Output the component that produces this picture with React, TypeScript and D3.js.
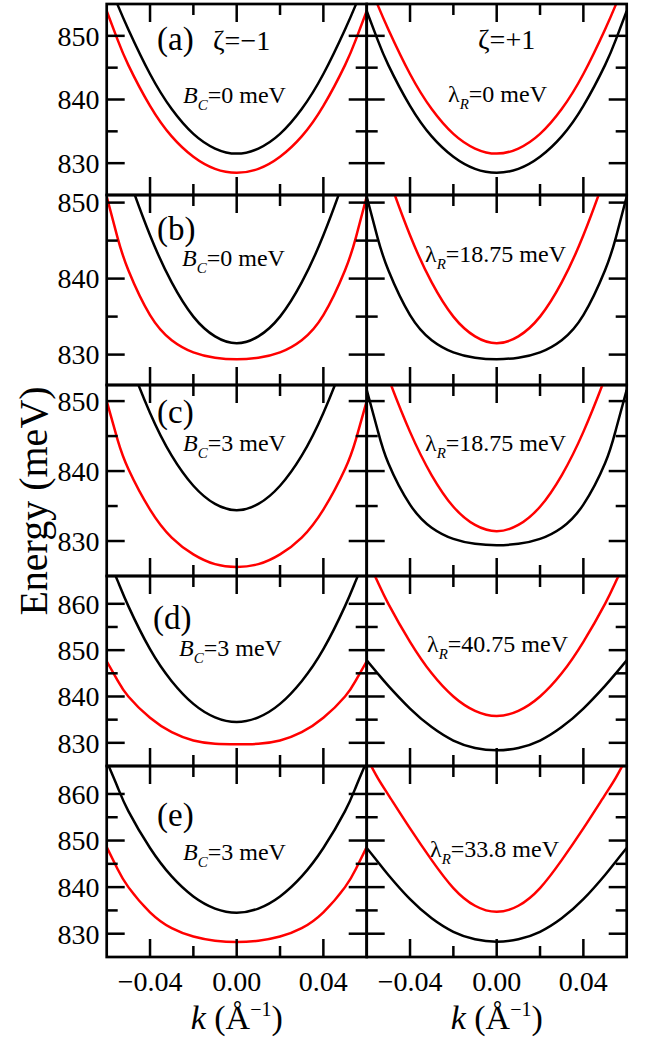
import React from 'react';
import * as d3 from 'd3';

// ---------- data ----------
const kValues = [-0.06, -0.055, -0.05, -0.04, -0.03, -0.02, -0.01, 0, 0.01, 0.02, 0.03, 0.04, 0.05, 0.055, 0.06];

// (a)
const aLeftBlack = [859.0, 854.9, 851.0, 844.0, 838.5, 834.6, 832.3, 831.5, 832.3, 834.6, 838.5, 844.0, 851.0, 854.9, 859.0];
const aLeftRed = [853.9, 849.4, 845.4, 839.0, 834.2, 831.0, 829.1, 828.5, 829.1, 831.0, 834.2, 839.0, 845.4, 849.4, 853.9];
const aRightBlack = [853.9, 849.4, 845.4, 839.0, 834.2, 831.0, 829.1, 828.5, 829.1, 831.0, 834.2, 839.0, 845.4, 849.4, 853.9];
const aRightRed = [859.0, 854.9, 851.0, 844.0, 838.5, 834.6, 832.3, 831.5, 832.3, 834.6, 838.5, 844.0, 851.0, 854.9, 859.0];
// (b)
const bLeftBlack = [862.5, 857.8, 853.4, 845.7, 839.5, 835.0, 832.4, 831.5, 832.4, 835.0, 839.5, 845.7, 853.4, 857.8, 862.5];
const bLeftRed = [850.8, 845.4, 841.1, 835.2, 831.9, 830.3, 829.6, 829.4, 829.6, 830.3, 831.9, 835.2, 841.1, 845.4, 850.8];
const bRightBlack = [850.8, 845.4, 841.1, 835.2, 831.9, 830.3, 829.6, 829.4, 829.6, 830.3, 831.9, 835.2, 841.1, 845.4, 850.8];
const bRightRed = [862.5, 857.8, 853.4, 845.7, 839.5, 835.0, 832.4, 831.5, 832.4, 835.0, 839.5, 845.7, 853.4, 857.8, 862.5];
// (c)
const cLeftBlack = [865.7, 860.7, 856.1, 848.3, 842.2, 837.9, 835.3, 834.4, 835.3, 837.9, 842.2, 848.3, 856.1, 860.7, 865.7];
const cLeftRed = [850.0, 844.5, 840.3, 834.5, 830.5, 828.1, 826.7, 826.3, 826.7, 828.1, 830.5, 834.5, 840.3, 844.5, 850.0];
const cRightBlack = [851.6, 845.9, 841.1, 835.2, 831.9, 830.3, 829.6, 829.4, 829.6, 830.3, 831.9, 835.2, 841.1, 845.9, 851.6];
const cRightRed = [862.4, 857.7, 853.3, 845.6, 839.4, 834.9, 832.3, 831.4, 832.3, 834.9, 839.4, 845.6, 853.3, 857.7, 862.4];
// (d)
const dLeftBlack = [870.5, 865.0, 859.5, 850.2, 843.3, 838.4, 835.5, 834.5, 835.5, 838.4, 843.3, 850.2, 859.5, 865.0, 870.5];
const dLeftRed = [847.6, 843.5, 840.0, 835.4, 832.3, 830.5, 829.8, 829.7, 829.8, 830.5, 832.3, 835.4, 840.0, 843.5, 847.6];
const dRightBlack = [847.8, 845.0, 842.3, 837.4, 833.4, 830.5, 828.9, 828.4, 828.9, 830.5, 833.4, 837.4, 842.3, 845.0, 847.8];
const dRightRed = [869.8, 864.8, 860.0, 851.8, 845.0, 840.0, 836.9, 835.8, 836.9, 840.0, 845.0, 851.8, 860.0, 864.8, 869.8];
// (e)
const eLeftBlack = [867.0, 861.5, 856.3, 848.4, 842.3, 838.0, 835.4, 834.5, 835.4, 838.0, 842.3, 848.4, 856.3, 861.5, 867.0];
const eLeftRed = [848.6, 843.9, 840.0, 834.6, 831.2, 829.4, 828.5, 828.2, 828.5, 829.4, 831.2, 834.6, 840.0, 843.9, 848.6];
const eRightBlack = [848.4, 845.5, 842.6, 837.4, 833.3, 830.4, 828.8, 828.3, 828.8, 830.4, 833.3, 837.4, 842.6, 845.5, 848.4];
const eRightRed = [867.8, 863.5, 859.8, 852.6, 845.8, 839.8, 836.0, 834.7, 836.0, 839.8, 845.8, 852.6, 859.8, 863.5, 867.8];

const panelLetters = ['(a)', '(b)', '(c)', '(d)', '(e)'];
const bcValues = ['0', '0', '3', '3', '3'];
const lambdaValues = ['0', '18.75', '18.75', '40.75', '33.8'];
const yDomains: [number, number][] = [[825, 855], [826, 851], [825, 852.3], [825, 866], [825, 866]];
const yMajorTicks = [[830, 840, 850], [830, 840, 850], [830, 840, 850], [830, 840, 850, 860], [830, 840, 850, 860]];
const yMinorTicks = [[835, 845], [835, 845], [835, 845], [835, 845, 855], [835, 845, 855]];
const xMajorTicks = [-0.04, 0, 0.04];
const xMinorTicks = [-0.02, 0.02];
const xTickLabels = ['\u22120.04', '0.00', '0.04'];

const curves = [
  [[aLeftBlack, aLeftRed], [aRightBlack, aRightRed]],
  [[bLeftBlack, bLeftRed], [bRightBlack, bRightRed]],
  [[cLeftBlack, cLeftRed], [cRightBlack, cRightRed]],
  [[dLeftBlack, dLeftRed], [dRightBlack, dRightRed]],
  [[eLeftBlack, eLeftRed], [eRightBlack, eRightRed]],
];

// ---------- layout ----------
const W = 652, H = 1040;
const colX: [number, number][] = [[106.7, 366.7], [366.7, 626.7]];
const rowY: [number, number][] = [[4, 195], [195, 385], [385, 576], [576, 766], [766, 957]];
const FONT = "'Liberation Serif', 'DejaVu Serif', serif";
const MAJ = 18, MIN = 11;
const tp = { fontFamily: FONT, fill: '#000' };

const letterPos = [[157, 50], [157, 240], [157, 423], [153, 629], [157, 826]];
const bcPos = [[183, 103], [182, 266], [183, 451], [179, 656], [183, 860]];
const lamPos = [[448, 102], [425, 262], [425, 451], [427, 652], [430, 857]];

export default function App() {
  const xScales = colX.map(([a, b]) => d3.scaleLinear().domain([-0.06, 0.06]).range([a, b]));
  const yScales = rowY.map(([t, b], i) => d3.scaleLinear().domain(yDomains[i]).range([b, t]));

  return (
    <svg width={W} height={H} style={{ position: 'absolute', left: 0, top: 0, background: '#fff' }}>
      <defs>
        {rowY.map((r, i) => colX.map((c, j) => (
          <clipPath id={`clip-${i}-${j}`} key={`${i}-${j}`}>
            <rect x={c[0]} y={r[0]} width={c[1] - c[0]} height={r[1] - r[0]} />
          </clipPath>
        )))}
      </defs>
      {rowY.map((r, i) => colX.map((c, j) => {
        const xs = xScales[j];
        const ys = yScales[i];
        const line = d3.line<number>().x((_, idx) => xs(kValues[idx])).y(v => ys(v)).curve(d3.curveNatural);
        const [blackVals, redVals] = curves[i][j];
        return (
          <g key={`p-${i}-${j}`}>
            <g clipPath={`url(#clip-${i}-${j})`}>
              <path d={line(blackVals) || ''} fill="none" stroke="#000" strokeWidth={2.5} />
              <path d={line(redVals) || ''} fill="none" stroke="#ff0000" strokeWidth={2.5} />
            </g>
            {xMajorTicks.map(t => (
              <g key={`xm${t}`}>
                <line x1={xs(t)} x2={xs(t)} y1={r[0]} y2={r[0] + MAJ} stroke="#000" strokeWidth={2.5} />
                <line x1={xs(t)} x2={xs(t)} y1={r[1]} y2={r[1] - MAJ} stroke="#000" strokeWidth={2.5} />
              </g>
            ))}
            {xMinorTicks.map(t => (
              <g key={`xn${t}`}>
                <line x1={xs(t)} x2={xs(t)} y1={r[0]} y2={r[0] + MIN} stroke="#000" strokeWidth={2.5} />
                <line x1={xs(t)} x2={xs(t)} y1={r[1]} y2={r[1] - MIN} stroke="#000" strokeWidth={2.5} />
              </g>
            ))}
            {yMajorTicks[i].map(t => (
              <g key={`ym${t}`}>
                <line x1={c[0]} x2={c[0] + MAJ} y1={ys(t)} y2={ys(t)} stroke="#000" strokeWidth={2.5} />
                <line x1={c[1]} x2={c[1] - MAJ} y1={ys(t)} y2={ys(t)} stroke="#000" strokeWidth={2.5} />
              </g>
            ))}
            {yMinorTicks[i].map(t => (
              <g key={`yn${t}`}>
                <line x1={c[0]} x2={c[0] + MIN} y1={ys(t)} y2={ys(t)} stroke="#000" strokeWidth={2.5} />
                <line x1={c[1]} x2={c[1] - MIN} y1={ys(t)} y2={ys(t)} stroke="#000" strokeWidth={2.5} />
              </g>
            ))}
            <rect x={c[0]} y={r[0]} width={c[1] - c[0]} height={r[1] - r[0]} fill="none" stroke="#000" strokeWidth={2.7} />
          </g>
        );
      }))}
      {rowY.map((r, i) => yMajorTicks[i].map(t => (
        <text key={`yl${i}-${t}`} {...tp} x={99.5} y={yScales[i](t)} dy="0.35em" textAnchor="end" fontSize={28}>{t}</text>
      )))}
      {colX.map((c, j) => xMajorTicks.map((t, idx) => (
        <text key={`xl${j}-${t}`} {...tp} x={xScales[j](t)} y={991} textAnchor="middle" fontSize={28}>{xTickLabels[idx]}</text>
      )))}
      {colX.map((c, j) => (
        <text key={`xt${j}`} {...tp} x={(c[0] + c[1]) / 2} y={1029} textAnchor="middle" fontSize={34}>
          <tspan fontStyle="italic">k</tspan>
          <tspan> (Å</tspan>
          <tspan fontSize={20} dy={-13}>−1</tspan>
          <tspan dy={13}>)</tspan>
        </text>
      ))}
      <text {...tp} transform="translate(47,501) rotate(-90)" textAnchor="middle" fontSize={40}>Energy (meV)</text>
      {panelLetters.map((l, i) => (
        <text key={`pl${i}`} {...tp} x={letterPos[i][0]} y={letterPos[i][1]} fontSize={33}>{l}</text>
      ))}
      <text {...tp} x={213} y={50} fontSize={28}>ζ=−1</text>
      <text {...tp} x={478} y={49} fontSize={28}>ζ=+1</text>
      {bcValues.map((v, i) => (
        <text key={`bc${i}`} {...tp} x={bcPos[i][0]} y={bcPos[i][1]} fontSize={24}>
          <tspan fontStyle="italic">B</tspan>
          <tspan fontStyle="italic" fontSize={15} dy={7}>C</tspan>
          <tspan dy={-7}>{`=${v} meV`}</tspan>
        </text>
      ))}
      {lambdaValues.map((v, i) => (
        <text key={`lr${i}`} {...tp} x={lamPos[i][0]} y={lamPos[i][1]} fontSize={24}>
          <tspan>λ</tspan>
          <tspan fontStyle="italic" fontSize={15} dy={7}>R</tspan>
          <tspan dy={-7}>{`=${v} meV`}</tspan>
        </text>
      ))}
    </svg>
  );
}
